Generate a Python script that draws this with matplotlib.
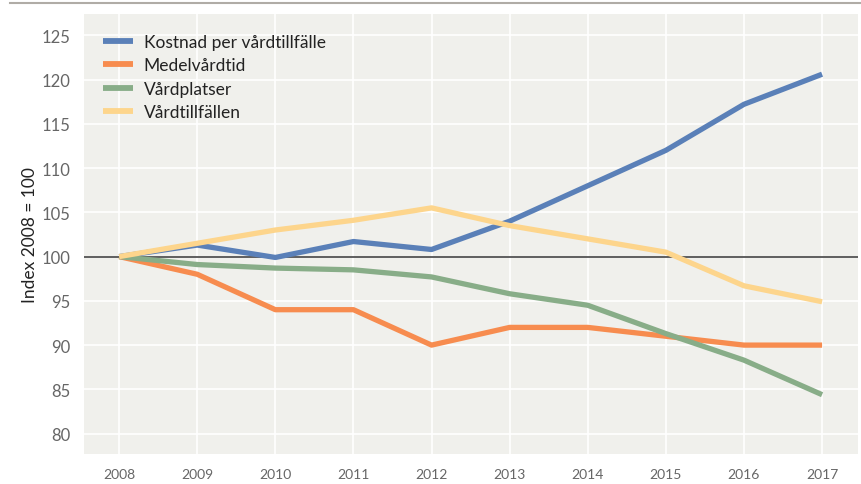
import matplotlib
matplotlib.use("Agg")
import matplotlib.pyplot as plt
from matplotlib.lines import Line2D

plt.rcParams['font.family'] = ['Lato', 'DejaVu Sans']

years = [2008, 2009, 2010, 2011, 2012, 2013, 2014, 2015, 2016, 2017]
kostnad = [100, 101.3, 99.9, 101.7, 100.8, 104.0, 108.0, 112.0, 117.2, 120.6]
medelvardtid = [100, 98.0, 94.0, 94.0, 90.0, 92.0, 92.0, 91.0, 90.0, 90.0]
vardplatser = [100, 99.1, 98.7, 98.5, 97.7, 95.8, 94.5, 91.3, 88.3, 84.4]
vardtillfallen = [100, 101.5, 103.0, 104.1, 105.5, 103.5, 102.0, 100.5, 96.7, 94.9]

names = ["Kostnad per vårdtillfälle", "Medelvårdtid", "Vårdplatser", "Vårdtillfällen"]
colors = ["#5a80b8", "#f78c4f", "#88ad88", "#fdd58c"]
yticks = [80, 85, 90, 95, 100, 105, 110, 115, 120, 125]

fig = plt.figure(figsize=(8.61, 4.85), dpi=100)
ax = fig.add_axes([84/861, 30/485, 774/861, 440/485])
ax.set_facecolor("#f0f0ec")

for s, n, c in zip([kostnad, medelvardtid, vardplatser, vardtillfallen], names, colors):
    ax.plot(years, s, color=c, lw=3.8, label=n, solid_capstyle="butt", zorder=3)

ax.axhline(100, color="#444444", lw=1.2, zorder=2)

ax.set_xlim(2007.55, 2017.46)
ax.set_ylim(77.7, 127.4)
ax.set_xticks(years)
ax.set_yticks(yticks)
ax.grid(True, color="white", lw=1.2)
ax.set_axisbelow(True)
for sp in ax.spines.values():
    sp.set_visible(False)
ax.tick_params(length=0, labelcolor="#666666")
ax.tick_params(axis="y", pad=10, labelsize=12)
ax.tick_params(axis="x", pad=10, labelsize=10)
ax.set_ylabel("Index 2008 = 100", fontsize=12.5, color="#222222")
ax.yaxis.set_label_coords(-0.06, 0.5)

leg = ax.legend(loc="upper left", bbox_to_anchor=(0.0245, 0.9545), frameon=False,
                fontsize=12.5, handlelength=1.75, handletextpad=0.6,
                labelspacing=0.43, borderaxespad=0, borderpad=0)
for t in leg.get_texts():
    t.set_color("#222222")
for h in leg.legend_handles:
    h.set_linewidth(4.2)

fig.add_artist(Line2D([10/861, 1], [1 - 4/485, 1 - 4/485], color="#b0aca6", lw=1.5,
                      transform=fig.transFigure))

fig.savefig("out.png", dpi=100)
